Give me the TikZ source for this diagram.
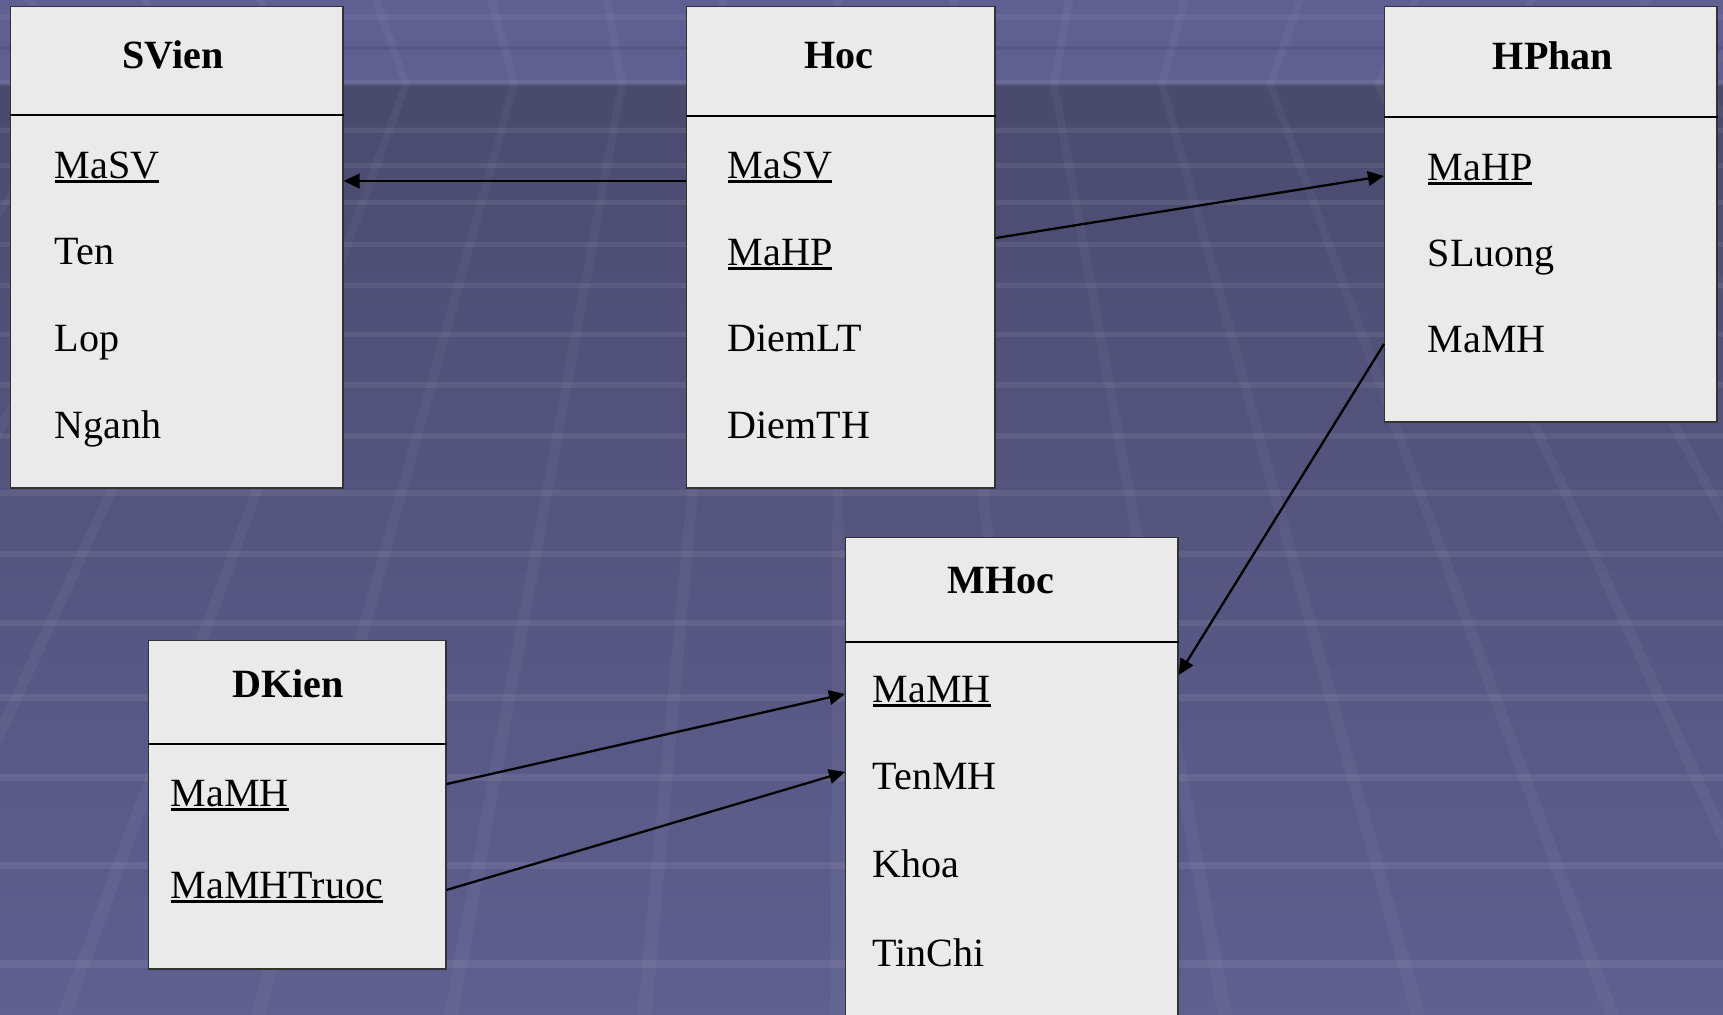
\documentclass[tikz,border=0pt]{standalone}
\usepackage{fontspec}
\setmainfont{Liberation Serif}
\usetikzlibrary{positioning,arrows.meta,calc}

\definecolor{wall}{HTML}{5F5F92}
\definecolor{band}{HTML}{4A4A6C}
\definecolor{floortop}{HTML}{4B4B70}
\definecolor{floorbot}{HTML}{5F5F90}
\definecolor{boxfill}{HTML}{EAEAEA}
\definecolor{boxline}{HTML}{333333}

% key attributes get a heavier underline than \underline gives
\newcommand{\keyattr}[1]{\setbox0\hbox{#1}\rlap{\rule[-0.05cm]{\wd0}{0.027cm}}\box0}

\begin{document}
\begin{tikzpicture}[
      x=0.01cm, y=-0.01cm,
      font=\fontsize{11.4pt}{13.7pt}\selectfont,
      tbl/.style={draw=boxline, line width=0.4pt, fill=boxfill, anchor=north west, inner sep=0},
      title/.style={font=\fontsize{11.4pt}{13.7pt}\selectfont\bfseries, anchor=base, inner sep=0},
      field/.style={anchor=base west, inner sep=0},
      headrule/.style={line width=0.75pt},
      fk/.style={-{Triangle[length=1.6mm, width=1.45mm]}, line width=0.65pt},
      hstripe/.style={fill=white, fill opacity=0.07},
      vstripe/.style={fill=white, fill opacity=0.04},
    ]
    \useasboundingbox (0,0) rectangle (1723,1015);
    \clip (0,0) rectangle (1723,1015);

    % ---------- backdrop ----------
    \fill[wall] (0,0) rectangle (1723,84);
    \shade[top color=floortop, bottom color=floorbot] (0,84) rectangle (1723,1015);
    \fill[band] (0,86) rectangle (1723,125);
    \fill[white, fill opacity=0.05] (0,14) rectangle (1723,20);
    \fill[black, fill opacity=0.08] (0,46) rectangle (1723,50);
    \fill[white, fill opacity=0.07] (0,80) rectangle (1723,86);
    \foreach \y in {128,163,200,242,283,332,382,433,490,551,620,694,774,862,960}
      \fill[hstripe] (0,\y) rectangle (1723,{\y+4+0.004*\y});
    \foreach \k in {-8,...,8} {
      \fill[vstripe] ({834+108*\k},84) -- ({842+108*\k},84)
        -- ({845.2+193.46*\k},1015) -- ({830.8+193.46*\k},1015) -- cycle;
      \fill[vstripe] ({834+108*\k},84) -- ({842+108*\k},84)
        -- ({842.3+115.5*\k},0) -- ({833.7+115.5*\k},0) -- cycle;
    }

    % ---------- SVien ----------
    \node[tbl, minimum width=3.32cm, minimum height=4.81cm] (svien) at (10,6) {};
    \draw[headrule] (svien.west |- 0,115) -- (svien.east |- 0,115);
    \node[title] (svien-t) at (173,68) {SVien};
    \node[field] (svien-masv) at (54,178) {\keyattr{MaSV}};
    \node[field] (svien-ten) at (54,264) {Ten};
    \node[field] (svien-lop) at (54,351) {Lop};
    \node[field] (svien-nganh) at (54,438) {Nganh};

    % ---------- Hoc ----------
    \node[tbl, minimum width=3.08cm, minimum height=4.81cm] (hoc) at (686,6) {};
    \draw[headrule] (hoc.west |- 0,116) -- (hoc.east |- 0,116);
    \node[title] (hoc-t) at (839,68) {Hoc};
    \node[field] (hoc-masv) at (727,178) {\keyattr{MaSV}};
    \node[field] (hoc-mahp) at (727,265) {\keyattr{MaHP}};
    \node[field] (hoc-diemlt) at (727,351) {DiemLT};
    \node[field] (hoc-diemth) at (727,438) {DiemTH};

    % ---------- HPhan ----------
    \node[tbl, minimum width=3.32cm, minimum height=4.15cm] (hphan) at (1384,6) {};
    \draw[headrule] (hphan.west |- 0,117) -- (hphan.east |- 0,117);
    \node[title] (hphan-t) at (1553,69) {HPhan};
    \node[field] (hphan-mahp) at (1427,180) {\keyattr{MaHP}};
    \node[field] (hphan-sluong) at (1427,266) {SLuong};
    \node[field] (hphan-mamh) at (1427,352) {MaMH};

    % ---------- MHoc ----------
    \node[tbl, minimum width=3.32cm, minimum height=5.63cm] (mhoc) at (845,537) {};
    \draw[headrule] (mhoc.west |- 0,642) -- (mhoc.east |- 0,642);
    \node[title] (mhoc-t) at (1001,593) {MHoc};
    \node[field] (mhoc-mamh) at (872,702) {\keyattr{MaMH}};
    \node[field] (mhoc-tenmh) at (872,789) {TenMH};
    \node[field] (mhoc-khoa) at (872,877) {Khoa};
    \node[field] (mhoc-tinchi) at (872,966) {TinChi};

    % ---------- DKien ----------
    \node[tbl, minimum width=2.97cm, minimum height=3.28cm] (dkien) at (148,640) {};
    \draw[headrule] (dkien.west |- 0,744) -- (dkien.east |- 0,744);
    \node[title] (dkien-t) at (288,697) {DKien};
    \node[field] (dkien-mamh) at (170,806) {\keyattr{MaMH}};
    \node[field] (dkien-mamhtr) at (170,898) {\keyattr{MaMHTruoc}};

    % ---------- foreign keys ----------
    \draw[fk] ($(hoc.west |- hoc-masv.base)+(0,3)$) -- ($(svien.east |- hoc-masv.base)+(0,3)$);
    \draw[fk] (hoc.east |- hoc-mahp.north) -- ($(hphan.west |- hphan-mahp.base)+(0,-4)$);
    \draw[fk] (hphan.west |- hphan-mamh.mid) -- (mhoc.east |- mhoc-mamh.north);
    \draw[fk] ($(dkien.east |- dkien-mamh.north)+(0,5)$) -- (mhoc.west |- mhoc-mamh.mid);
    \draw[fk] (dkien.east |- dkien-mamhtr.mid) -- ($(mhoc.west |- mhoc-tenmh.mid)+(0,-9)$);
  \end{tikzpicture}
\end{document}
